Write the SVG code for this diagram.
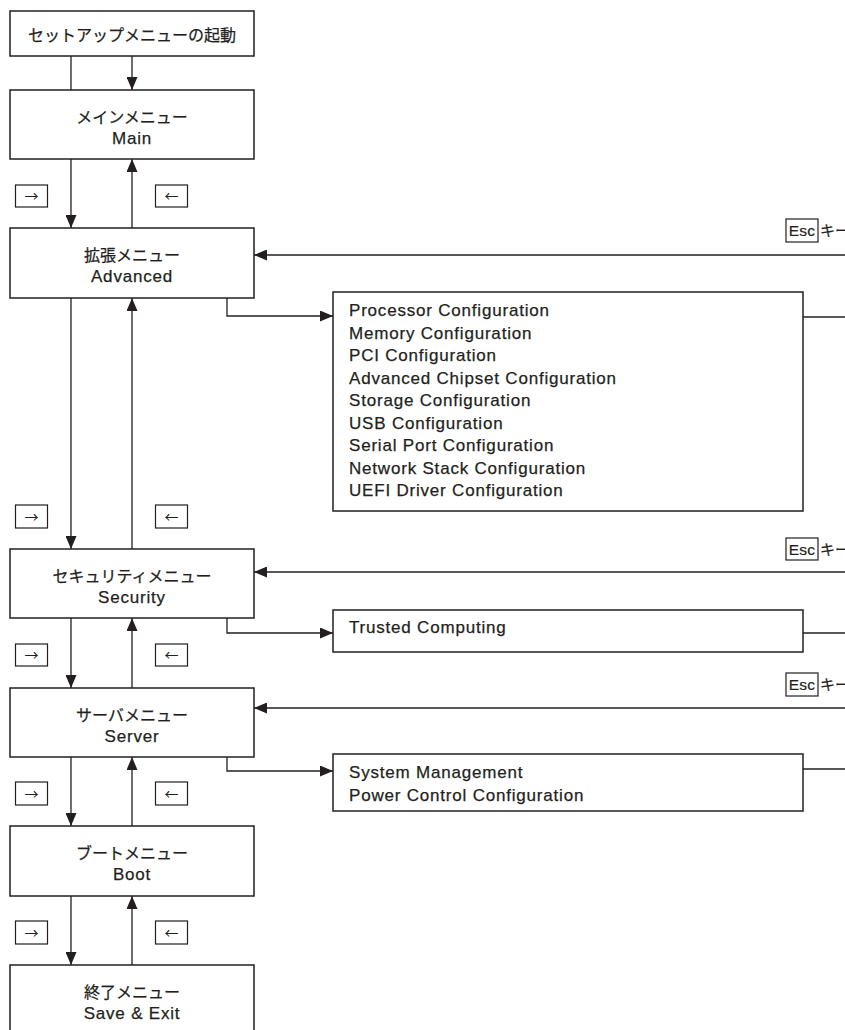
<svg xmlns="http://www.w3.org/2000/svg" width="845" height="1030" viewBox="0 0 845 1030">
<style>
.box{fill:#fff;stroke:#231f20;stroke-width:1.5}
.ln{fill:none;stroke:#231f20;stroke-width:1.3}
.jp{font-family:"Noto Sans CJK JP",sans-serif;font-size:16px;fill:#231f20;stroke:#231f20;stroke-width:0.25}
.en{font-family:"Liberation Sans",Arial,"Noto Sans CJK JP",sans-serif;font-size:17px;letter-spacing:0.8px;fill:#231f20;stroke:#231f20;stroke-width:0.25}
.key{font-family:"Noto Sans CJK JP",sans-serif;font-size:14px;fill:#231f20}
.esc{font-family:"Liberation Sans",Arial,sans-serif;font-size:15.5px;letter-spacing:0.3px;fill:#231f20;stroke:#231f20;stroke-width:0.2}
.kk{font-family:"Noto Sans CJK JP",sans-serif;font-size:15px;fill:#231f20;stroke:#231f20;stroke-width:0.2}
.c{text-anchor:middle}
.kb{fill:#fff;stroke:#231f20;stroke-width:1.2}
</style>
<defs>
<marker id="ah" markerUnits="userSpaceOnUse" markerWidth="13" markerHeight="11" refX="13" refY="5.5" orient="auto">
<path d="M0,0 L13,5.5 L0,11 z" fill="#231f20"/>
</marker>
</defs>

<g id="connectors">
<line class="ln" x1="71" y1="56" x2="71" y2="90"/>
<line class="ln" x1="132" y1="56" x2="132" y2="90" marker-end="url(#ah)"/>
<line class="ln" x1="71" y1="159" x2="71" y2="228" marker-end="url(#ah)"/>
<line class="ln" x1="132" y1="228" x2="132" y2="159" marker-end="url(#ah)"/>
<line class="ln" x1="71" y1="298" x2="71" y2="549" marker-end="url(#ah)"/>
<line class="ln" x1="132" y1="549" x2="132" y2="298" marker-end="url(#ah)"/>
<line class="ln" x1="71" y1="618" x2="71" y2="688" marker-end="url(#ah)"/>
<line class="ln" x1="132" y1="688" x2="132" y2="618" marker-end="url(#ah)"/>
<line class="ln" x1="71" y1="757" x2="71" y2="826" marker-end="url(#ah)"/>
<line class="ln" x1="132" y1="826" x2="132" y2="757" marker-end="url(#ah)"/>
<line class="ln" x1="71" y1="896" x2="71" y2="965" marker-end="url(#ah)"/>
<line class="ln" x1="132" y1="965" x2="132" y2="896" marker-end="url(#ah)"/>
<path class="ln" d="M227,298 V316 H333" marker-end="url(#ah)"/>
<path class="ln" d="M227,618 V633 H333" marker-end="url(#ah)"/>
<path class="ln" d="M227,757 V771 H333" marker-end="url(#ah)"/>
<line class="ln" x1="845" y1="255" x2="254" y2="255" marker-end="url(#ah)"/>
<line class="ln" x1="845" y1="572" x2="254" y2="572" marker-end="url(#ah)"/>
<line class="ln" x1="845" y1="708" x2="254" y2="708" marker-end="url(#ah)"/>
<line class="ln" x1="803" y1="317" x2="845" y2="317"/>
<line class="ln" x1="803" y1="633" x2="845" y2="633"/>
<line class="ln" x1="803" y1="769" x2="845" y2="769"/>
</g>

<g id="start">
<rect class="box" x="10" y="11" width="244" height="45"/>
<text class="jp c" x="132" y="41">セットアップメニューの起動</text>
</g>
<g id="main">
<rect class="box" x="10" y="90" width="244" height="69"/>
<text class="jp c" x="132" y="123">メインメニュー</text>
<text class="en c" x="132" y="144">Main</text>
</g>
<g id="advanced">
<rect class="box" x="10" y="228" width="244" height="70"/>
<text class="jp c" x="132" y="261">拡張メニュー</text>
<text class="en c" x="132" y="282">Advanced</text>
</g>
<g id="security">
<rect class="box" x="10" y="549" width="244" height="69"/>
<text class="jp c" x="132" y="582">セキュリティメニュー</text>
<text class="en c" x="132" y="603">Security</text>
</g>
<g id="server">
<rect class="box" x="10" y="688" width="244" height="69"/>
<text class="jp c" x="132" y="721">サーバメニュー</text>
<text class="en c" x="132" y="742">Server</text>
</g>
<g id="boot">
<rect class="box" x="10" y="826" width="244" height="70"/>
<text class="jp c" x="132" y="859">ブートメニュー</text>
<text class="en c" x="132" y="880">Boot</text>
</g>
<g id="exit">
<rect class="box" x="10" y="965" width="244" height="70"/>
<text class="jp c" x="132" y="998">終了メニュー</text>
<text class="en c" x="132" y="1019">Save &amp; Exit</text>
</g>

<g id="advanced-list">
<rect class="box" x="333" y="292" width="470" height="219"/>
<text class="en" x="349" y="316">Processor Configuration</text>
<text class="en" x="349" y="338.5">Memory Configuration</text>
<text class="en" x="349" y="361">PCI Configuration</text>
<text class="en" x="349" y="383.5">Advanced Chipset Configuration</text>
<text class="en" x="349" y="406">Storage Configuration</text>
<text class="en" x="349" y="428.5">USB Configuration</text>
<text class="en" x="349" y="451">Serial Port Configuration</text>
<text class="en" x="349" y="473.5">Network Stack Configuration</text>
<text class="en" x="349" y="496">UEFI Driver Configuration</text>
</g>
<g id="security-list">
<rect class="box" x="333" y="610" width="470" height="42"/>
<text class="en" x="349" y="633">Trusted Computing</text>
</g>
<g id="server-list">
<rect class="box" x="333" y="754" width="470" height="57"/>
<text class="en" x="349" y="778">System Management</text>
<text class="en" x="349" y="801">Power Control Configuration</text>
</g>

<g id="keys">
<rect class="kb" x="15.5" y="185" width="32" height="22"/><text class="key c" x="31.5" y="201">→</text>
<rect class="kb" x="155.5" y="185" width="32" height="22"/><text class="key c" x="171.5" y="201">←</text>
<rect class="kb" x="15.5" y="505" width="32" height="23"/><text class="key c" x="31.5" y="521.5">→</text>
<rect class="kb" x="155.5" y="505" width="32" height="23"/><text class="key c" x="171.5" y="521.5">←</text>
<rect class="kb" x="15.5" y="644" width="32" height="22"/><text class="key c" x="31.5" y="660">→</text>
<rect class="kb" x="155.5" y="644" width="32" height="22"/><text class="key c" x="171.5" y="660">←</text>
<rect class="kb" x="15.5" y="782" width="32" height="23"/><text class="key c" x="31.5" y="798.5">→</text>
<rect class="kb" x="155.5" y="782" width="32" height="23"/><text class="key c" x="171.5" y="798.5">←</text>
<rect class="kb" x="15.5" y="921" width="32" height="23"/><text class="key c" x="31.5" y="937.5">→</text>
<rect class="kb" x="155.5" y="921" width="32" height="23"/><text class="key c" x="171.5" y="937.5">←</text>
</g>

<g id="esc-labels">
<rect class="kb" x="786" y="219" width="32" height="23"/><text class="esc c" x="802" y="236">Esc</text><text class="kk" x="820" y="236">キー</text>
<rect class="kb" x="786" y="538" width="32" height="22"/><text class="esc c" x="802" y="554.5">Esc</text><text class="kk" x="820" y="554.5">キー</text>
<rect class="kb" x="786" y="673" width="32" height="23"/><text class="esc c" x="802" y="690">Esc</text><text class="kk" x="820" y="690">キー</text>
</g>
</svg>
